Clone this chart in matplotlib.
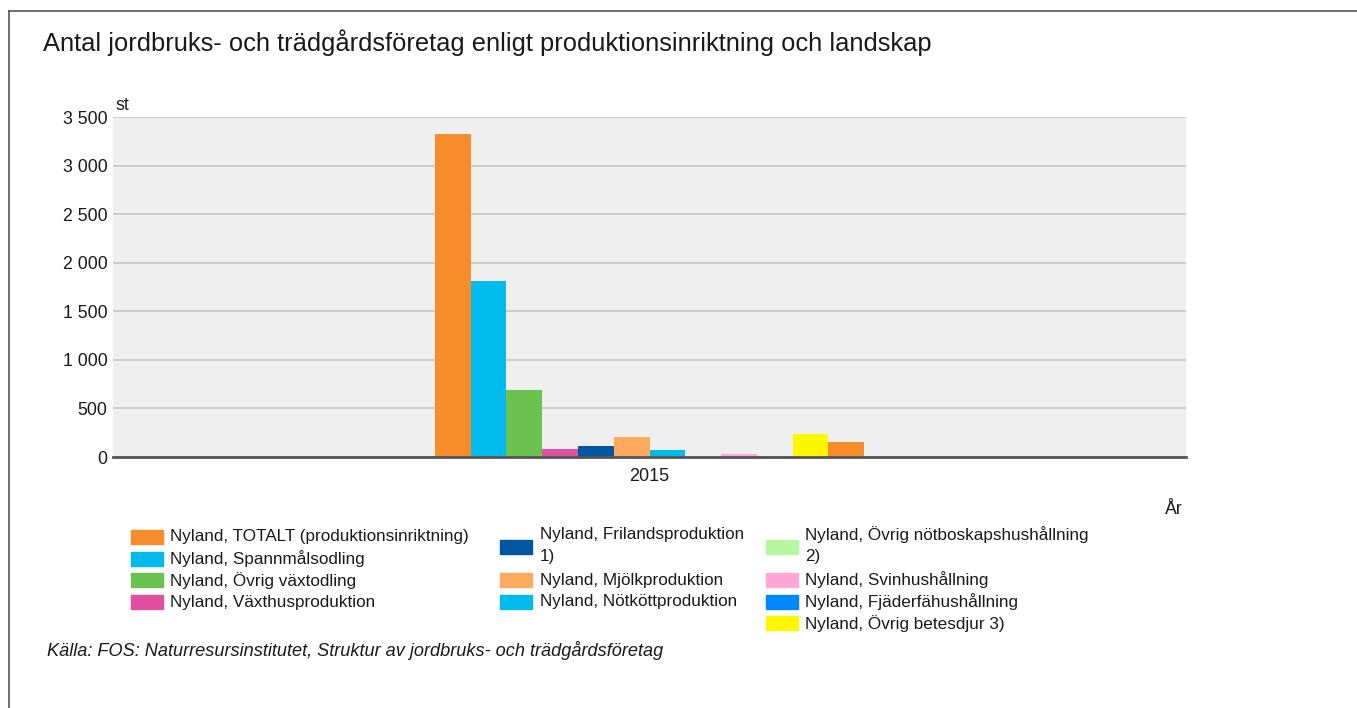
import matplotlib.pyplot as plt
import matplotlib.ticker as ticker
from matplotlib.patches import Rectangle
from matplotlib.lines import Line2D
import numpy as np

plt.rcParams["font.family"] = ["Liberation Sans", "DejaVu Sans"]

years = ["2015"]
series = [
    "Nyland, TOTALT (produktionsinriktning)",
    "Nyland, Spannmålsodling",
    "Nyland, Övrig växtodling",
    "Nyland, Växthusproduktion",
    "Nyland, Frilandsproduktion 1)",
    "Nyland, Mjölkproduktion",
    "Nyland, Nötköttproduktion",
    "Nyland, Övrig nötboskapshushållning 2)",
    "Nyland, Svinhushållning",
    "Nyland, Fjäderfähushållning",
    "Nyland, Övrig betesdjur 3)",
    "",  # last bar, no legend entry visible
]
values = [3325, 1812, 690, 85, 110, 203, 72, 15, 34, 3, 234, 155]
colors = ["#F68C2A", "#00BBEC", "#6CC24F", "#E050A0", "#0057A0", "#FFAA5E",
          "#00BBEC", "#B6F7A0", "#FFA8D8", "#0088FF", "#FFF700", "#F68C2A"]

W, H = 1357, 708
fig = plt.figure(figsize=(W / 100, H / 100), dpi=100)
TXT = "#1A1A1A"


def fx(px):
    return px / W


def fy(py):
    return 1 - py / H


# outer frame (left and top edges)
fig.add_artist(Line2D([fx(8.5), fx(8.5)], [fy(11), 0], color="#555555", lw=1.2))
fig.add_artist(Line2D([fx(8.5), 1], [fy(11), fy(11)], color="#555555", lw=1.2))

fig.text(fx(43), fy(43), "Antal jordbruks- och trädgårdsföretag enligt produktionsinriktning och landskap",
         fontsize=18.4, va="center", ha="left", color=TXT)

ax = fig.add_axes([fx(113), fy(457), fx(1186 - 113), (457 - 117) / H])
ax.set_facecolor("#EFEFEF")
n = len(values)
group = 0.4
bw = group / n
x0 = 0 - group / 2
for i in range(n):
    ax.bar(x0 + bw * (i + 0.5), values[i], width=bw, color=colors[i], zorder=3,
           edgecolor="none")
ax.set_xlim(-0.5, 0.5)
ax.set_ylim(0, 3500)
ax.set_xticks([0])
ax.set_xticklabels(years, fontsize=13, color=TXT)
ax.set_yticks(np.arange(0, 3501, 500))
ax.yaxis.set_major_formatter(ticker.FuncFormatter(
    lambda y, p: f"{int(y):,}".replace(",", " ")))
ax.tick_params(axis="y", length=0, labelsize=12.8, pad=4, labelcolor=TXT)
ax.tick_params(axis="x", length=0, pad=8)
ax.grid(True, axis="y", color="#C6C6C6", lw=1.2, zorder=0)
for s in ["top", "right", "left"]:
    ax.spines[s].set_visible(False)
ax.spines["bottom"].set_color("#555555")
ax.spines["bottom"].set_linewidth(2)
ax.spines["bottom"].set_zorder(4)

fig.text(fx(115), fy(105), "st", fontsize=12.8, ha="left", va="center", color=TXT)
fig.text(fx(1183), fy(510), "År", fontsize=12.8, ha="right", va="center", color=TXT)

# legend, three columns
cols = [(131, 170, [0, 1, 2, 3]), (500, 540, [4, 5, 6]), (766, 805, [7, 8, 9, 10])]
for sx, tx, idx in cols:
    y = 537
    for i in idx:
        lab = series[i]
        tail = lab.rsplit(" ", 1)[-1]
        if tail in ("1)", "2)"):
            head = lab.rsplit(" ", 1)[0]
            fig.add_artist(Rectangle((fx(sx), fy(y + 17)), fx(32), 14 / H,
                                     color=colors[i], transform=fig.transFigure))
            fig.text(fx(tx), fy(y - 2), head, fontsize=12.3, ha="left", va="center", color=TXT)
            fig.text(fx(tx), fy(y + 19), tail, fontsize=12.3, ha="left", va="center", color=TXT)
            y += 43
        else:
            fig.add_artist(Rectangle((fx(sx), fy(y + 7)), fx(32), 14 / H,
                                     color=colors[i], transform=fig.transFigure))
            fig.text(fx(tx), fy(y), lab, fontsize=12.3, ha="left", va="center", color=TXT)
            y += 21.7

fig.text(fx(47), fy(650), "Källa: FOS: Naturresursinstitutet, Struktur av jordbruks- och trädgårdsföretag",
         fontsize=13.1, style="italic", ha="left", va="center", color=TXT)

fig.savefig("out.png", dpi=100, facecolor="white")
